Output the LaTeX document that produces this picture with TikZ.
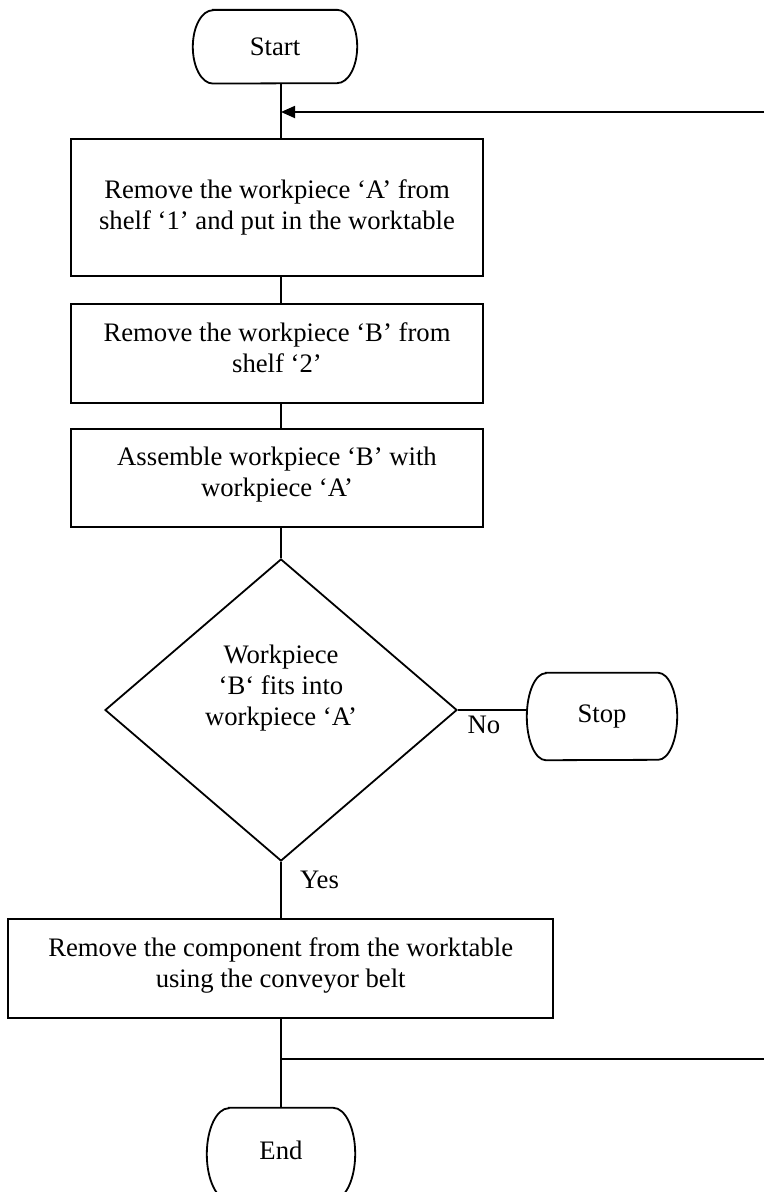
\documentclass[tikz,border=0pt]{standalone}
\usepackage{fontspec}
\setmainfont{Liberation Serif}
\usetikzlibrary{shapes.geometric,arrows.meta}
\newcommand{\drawterm}[3]{%
  \draw[edge] ([xshift=#2]#1.north west) -- ([xshift=-#2]#1.north east)
    arc[start angle=90,end angle=-90,x radius=#2,y radius=#3]
    -- ([xshift=#2]#1.south west)
    arc[start angle=270,end angle=90,x radius=#2,y radius=#3] -- cycle;}
\newcommand{\dpad}{\rule[-12pt]{0pt}{12pt}}
\begin{document}
\begin{tikzpicture}[x=1pt,y=-1pt,
  every node/.style={font=\fontsize{26.7}{31}\selectfont},
  edge/.style={line width=1.8pt,line join=miter},
  conn/.style={line width=1.8pt},
  procbox/.style={draw,line width=1.8pt,rectangle,align=center,inner sep=0pt,minimum width=#1},
  termnode/.style={inner sep=0pt,draw=none},
  decision/.style={draw,line width=1.8pt,diamond,inner sep=0pt,minimum width=352pt,minimum height=302pt}]
\useasboundingbox (0,0) rectangle (764,1192);
\clip (0,0) rectangle (764,1192);
\fill[white] (0,0) rectangle (764,1192);
\coordinate (col) at (281,0);

\node[termnode,minimum width=164pt,minimum height=73.3pt] (start) at (275,46.7) {Start};
\drawterm{start}{20pt}{36.65pt}

\node[procbox=412pt,minimum height=137pt] (box1) at (277,207.5)
  {Remove the workpiece ‘A’ from\\shelf ‘1’ and put in the worktable};
\node[procbox=412pt,minimum height=99pt] (box2) at (277,353.5)
  {Remove the workpiece ‘B’ from\\shelf ‘2’\dpad};
\node[procbox=412pt,minimum height=98pt] (box3) at (277,478)
  {Assemble workpiece ‘B’ with\\workpiece ‘A’\dpad};

\node[decision] (dec) at (281,710) {};
\node[align=center,inner sep=0pt] (dtext) at (281,688) {Workpiece\\‘B‘ fits into\\workpiece ‘A’};

\node[termnode,minimum width=150pt,minimum height=87pt] (stop) at (602,716.5) {\raisebox{4.5pt}{Stop}};
\drawterm{stop}{19pt}{43.5pt}

\node[procbox=545pt,minimum height=99pt] (box4) at (280.7,968.5)
  {Remove the component from the worktable\\using the conveyor belt\dpad};

\node[termnode,minimum width=148pt,minimum height=92pt] (end) at (281,1154) {\raisebox{8pt}{End}};
\drawterm{end}{22pt}{46pt}

\node (nolbl) at (484,725) {No};
\node (yeslbl) at (319.5,880) {Yes};

\draw[conn] (start.south -| col) -- (box1.north -| col);
\draw[conn] (box1.south -| col) -- (box2.north -| col);
\draw[conn] (box2.south -| col) -- (box3.north -| col);
\draw[conn] (box3.south -| col) -- (dec.north);
\draw[conn] (dec.south) -- (box4.north -| dec.south);
\draw[conn] (box4.south -| col) -- (end.north -| col);
\draw[conn] (dec.east) -- (stop.west |- dec.east);

\coordinate (jB) at (281,1059);
\coordinate (loopB) at (764,1059);
\draw[conn] (jB) -- (loopB);
\coordinate (loopT) at (764,112);
\draw[conn,-{Triangle[length=14pt,width=12pt]}] (loopT) -- (loopT -| col);
\end{tikzpicture}
\end{document}
